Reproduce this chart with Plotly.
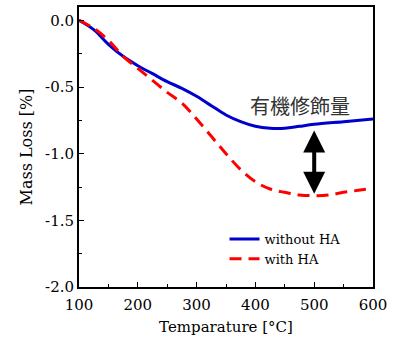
import plotly.graph_objects as go

temp_without = [100, 125, 150, 175, 200, 225, 250, 275, 300, 325, 350, 375, 400, 425, 450, 475, 500, 550, 600]
loss_without = [0.0, -0.07, -0.18, -0.27, -0.34, -0.40, -0.46, -0.51, -0.57, -0.64, -0.71, -0.76, -0.795, -0.81, -0.81, -0.795, -0.78, -0.76, -0.74]

temp_with = [100, 125, 150, 175, 200, 225, 250, 275, 300, 325, 350, 375, 400, 425, 450, 475, 500, 525, 550, 575, 600]
loss_with = [0.0, -0.06, -0.15, -0.27, -0.36, -0.45, -0.54, -0.62, -0.74, -0.87, -1.00, -1.12, -1.21, -1.265, -1.29, -1.31, -1.315, -1.31, -1.29, -1.275, -1.26]

arrow_x = 500
arrow_top = -0.815
arrow_bottom = -1.30
label_text = "有機修飾量"

SERIF = "DejaVu Serif"

fig = go.Figure()
fig.add_trace(go.Scatter(x=temp_without, y=loss_without, mode="lines", name="without HA",
                         line=dict(color="#0000CC", width=3, shape="spline")))
fig.add_trace(go.Scatter(x=temp_with, y=loss_with, mode="lines", name="with HA",
                         line=dict(color="#FF0000", width=3, dash="12px,7px", shape="spline")))

fig.add_annotation(x=arrow_x, y=arrow_bottom, ax=arrow_x, ay=arrow_top, xref="x", yref="y",
                   axref="x", ayref="y", text="", showarrow=True, arrowside="end+start",
                   arrowhead=2, startarrowhead=2, arrowsize=1.1, startarrowsize=1.1,
                   arrowwidth=4, arrowcolor="black")
fig.add_annotation(x=476, y=-0.64, xref="x", yref="y", text=label_text, showarrow=False,
                   font=dict(family="Noto Sans CJK JP", size=20, color="#333333"))

axis_common = dict(showline=True, linecolor="black", linewidth=2, mirror=True,
                   ticks="inside", ticklen=5, tickcolor="black", showgrid=False, zeroline=False,
                   automargin=False,
                   tickfont=dict(family=SERIF, size=15, color="black"))

fig.update_xaxes(range=[100, 600], tickvals=[100, 200, 300, 400, 500, 600],
                 minor=dict(ticks="inside", ticklen=3, dtick=50, tickcolor="black"),
                 ticklabelstandoff=3,
                 title=dict(text="Temparature [°C]", font=dict(family=SERIF, size=15, color="black"), standoff=8),
                 **axis_common)
fig.update_yaxes(range=[-2.0, 0.1], tickvals=[0.0, -0.5, -1.0, -1.5, -2.0],
                 ticktext=["0.0", "-0.5", "-1.0", "-1.5", "-2.0"],
                 minor=dict(ticks="inside", ticklen=3, dtick=0.25, tickcolor="black"),
                 title=dict(text="Mass Loss [%]", font=dict(family=SERIF, size=16, color="black"), standoff=8),
                 **axis_common)

fig.update_layout(width=393, height=338, margin=dict(l=79, r=20, t=7, b=51),
                  paper_bgcolor="white", plot_bgcolor="white",
                  legend=dict(x=0.495, y=0.225, xanchor="left", yanchor="top",
                              font=dict(family=SERIF, size=13, color="black"),
                              bgcolor="rgba(0,0,0,0)", itemwidth=30, tracegroupgap=0))

fig.write_html("out.html", config={"displayModeBar": False},
               post_script="document.body.style.margin='0';document.body.style.padding='0';")
